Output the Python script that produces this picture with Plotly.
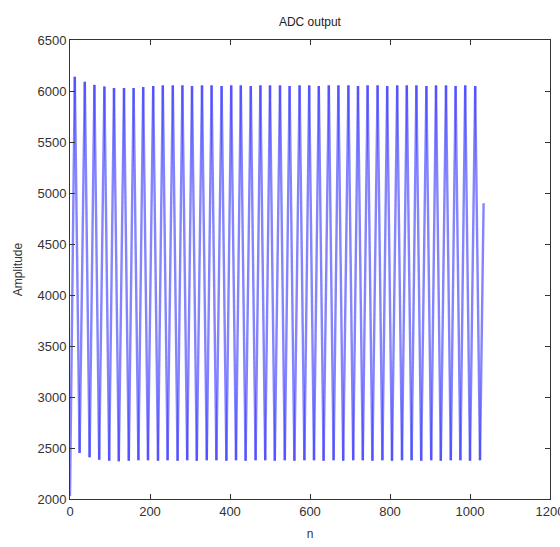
import plotly.graph_objects as go

# Sample index of each waveform crest and trough, with the amplitude read at each
peak_n = [12, 37, 61, 86, 110, 135, 159, 183, 208, 232, 257, 281, 305, 330,
          354, 379, 403, 427, 452, 476, 500, 525, 549, 574, 598, 622, 647, 671,
          696, 720, 744, 769, 793, 818, 842, 866, 891, 915, 940, 964, 988, 1013]
peak_amp = [6140, 6090, 6060, 6045, 6030, 6030, 6030, 6040, 6050, 6055, 6055,
            6055, 6050, 6055, 6055, 6050, 6055, 6055, 6050, 6055, 6055, 6055,
            6050, 6055, 6055, 6050, 6055, 6055, 6055, 6050, 6055, 6055, 6050,
            6055, 6055, 6055, 6050, 6055, 6055, 6050, 6055, 6050]

trough_n = [24, 49, 73, 98, 122, 147, 171, 195, 220, 244, 269, 293, 317, 342,
            366, 391, 415, 439, 464, 488, 512, 537, 561, 586, 610, 634, 659, 683,
            708, 732, 756, 781, 805, 830, 854, 878, 903, 927, 952, 976, 1000, 1025]
trough_amp = [2450, 2410, 2385, 2375, 2370, 2375, 2380, 2380, 2375, 2380, 2375,
              2380, 2375, 2380, 2380, 2375, 2380, 2375, 2380, 2380, 2375, 2380,
              2375, 2380, 2380, 2375, 2380, 2375, 2380, 2380, 2375, 2380, 2375,
              2380, 2380, 2375, 2380, 2375, 2380, 2380, 2375, 2380]

# First and last recorded samples
start_n, start_amp = 0, 2030
end_n, end_amp = 1034, 4900

x_ticks = [0, 200, 400, 600, 800, 1000, 1200]
y_ticks = [2000, 2500, 3000, 3500, 4000, 4500, 5000, 5500, 6000, 6500]

# Samples in time order
n_vals = [start_n]
amp_vals = [start_amp]
for pn, pa, tn, ta in zip(peak_n, peak_amp, trough_n, trough_amp):
    n_vals += [pn, tn]
    amp_vals += [pa, ta]
n_vals.append(end_n)
amp_vals.append(end_amp)

# Split into rising and falling strokes so that they blend where they meet
rise_x, rise_y, fall_x, fall_y = [], [], [], []
for i in range(len(n_vals) - 1):
    seg_x = [n_vals[i], n_vals[i + 1], None]
    seg_y = [amp_vals[i], amp_vals[i + 1], None]
    if amp_vals[i + 1] >= amp_vals[i]:
        rise_x += seg_x
        rise_y += seg_y
    else:
        fall_x += seg_x
        fall_y += seg_y

fig = go.Figure()
for xs, ys in ((rise_x, rise_y), (fall_x, fall_y)):
    fig.add_trace(go.Scatter(
        x=xs, y=ys, mode="lines",
        line=dict(color="rgba(50,50,255,0.6)", width=2.4),
        showlegend=False, hoverinfo="skip",
    ))

font_family = "Liberation Sans, Arial, sans-serif"
axis_common = dict(
    showgrid=False, zeroline=False, automargin=False,
    showline=True, linecolor="#333", linewidth=1, mirror="ticks",
    ticks="inside", ticklen=5, tickcolor="#333",
    ticklabeloverflow="allow",
    tickfont=dict(family=font_family, size=13, color="#333"),
    title_font=dict(family=font_family, size=12, color="#333"),
)

fig.update_layout(
    width=560, height=547,
    margin=dict(l=70, r=10, t=40, b=48),
    paper_bgcolor="white", plot_bgcolor="white",
    title=dict(text="ADC output", x=0.5535, xanchor="center", y=0.96, yanchor="middle",
               font=dict(family=font_family, size=12, color="#222")),
    xaxis=dict(range=[0, 1200], tickvals=x_ticks, title=dict(text="n", standoff=12),
               **axis_common),
    yaxis=dict(range=[2000, 6500], tickvals=y_ticks, title=dict(text="Amplitude", standoff=12),
               **axis_common),
)

fig.write_html("out.html")
